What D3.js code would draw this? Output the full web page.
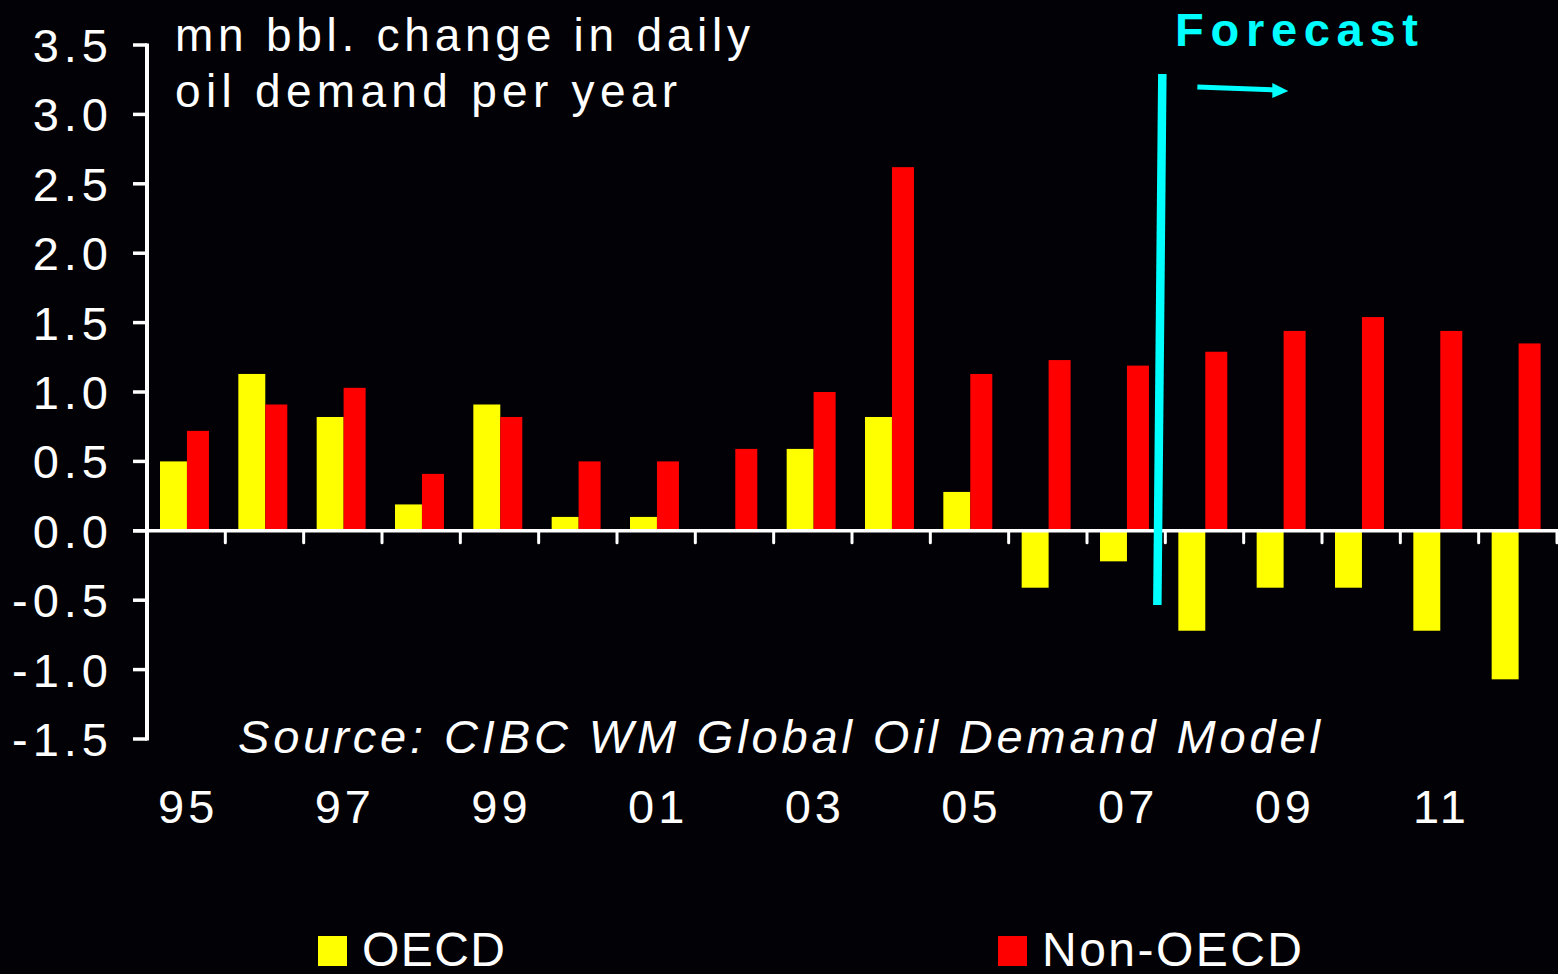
<!DOCTYPE html>
<html><head><meta charset="utf-8">
<script src="https://cdn.jsdelivr.net/npm/d3@7"></script>
<style>html,body{margin:0;padding:0;background:#020206;overflow:hidden}
text{font-family:"Liberation Sans",Arial,sans-serif;fill:#fff}</style>
</head><body><svg id="c" width="1558" height="974"></svg>
<script>
const years = [1995,1996,1997,1998,1999,2000,2001,2002,2003,2004,2005,2006,2007,2008,2009,2010,2011,2012];
const oecd = [0.50,1.13,0.82,0.19,0.91,0.10,0.10,0.00,0.59,0.82,0.28,-0.41,-0.22,-0.72,-0.41,-0.41,-0.72,-1.07];
const nonOecd = [0.72,0.91,1.03,0.41,0.82,0.50,0.50,0.59,1.00,2.62,1.13,1.23,1.19,1.29,1.44,1.54,1.44,1.35];
const yTicks = [-1.5,-1.0,-0.5,0.0,0.5,1.0,1.5,2.0,2.5,3.0,3.5];
const xLabelYears = [1995,1997,1999,2001,2003,2005,2007,2009,2011];
const seriesNames = ["OECD","Non-OECD"];
const seriesColors = ["#FFFF00","#FF0000"];
const forecastYear = 2008;
const titleLines = ["mn bbl. change in daily","oil demand per year"];
const sourceText = "Source: CIBC WM Global Oil Demand Model";

const svg = d3.select("#c");
const x = d3.scaleBand().domain(years).range([147,1557]).padding(0);
const y = d3.scaleLinear().domain([-1.5,3.5]).range([739,45]);
const bw = x.bandwidth();
const sub = d3.scaleOrdinal().domain([0,1]).range([0.166*bw, 0.166*bw+0.344*bw]);
const subW = [0.344*bw, 0.281*bw];

// bars
[oecd, nonOecd].forEach((vals,si)=>{
  svg.append("g").selectAll("rect").data(years).join("rect")
    .attr("x", d=>x(d)+sub(si))
    .attr("width", subW[si])
    .attr("y", (d,i)=> vals[i]>=0 ? y(vals[i]) : y(0))
    .attr("height", (d,i)=> Math.abs(y(vals[i])-y(0)))
    .attr("fill", seriesColors[si]);
});

// y axis
const ya = svg.append("g");
ya.append("line").attr("x1",147).attr("x2",147).attr("y1",y(3.5)-1.5).attr("y2",y(-1.5)+1.5)
  .attr("stroke","#fff").attr("stroke-width",4);
ya.selectAll("line.t").data(yTicks).join("line").attr("class","t")
  .attr("x1",133).attr("x2",147).attr("y1",d=>y(d)).attr("y2",d=>y(d))
  .attr("stroke","#fff").attr("stroke-width",3.5);
ya.selectAll("text").data(yTicks).join("text")
  .attr("x",113).attr("y",d=>y(d)+17)
  .attr("text-anchor","end").attr("font-size",47).attr("letter-spacing",5)
  .text(d=>d.toFixed(1));

// zero line + x ticks
svg.append("line").attr("x1",133).attr("x2",1558).attr("y1",y(0)).attr("y2",y(0))
  .attr("stroke","#fff").attr("stroke-width",3.5);
svg.append("g").selectAll("line").data(years).join("line")
  .attr("x1",d=>x(d)+bw).attr("x2",d=>x(d)+bw)
  .attr("y1",y(0)).attr("y2",y(0)+12)
  .attr("stroke","#fff").attr("stroke-width",3).attr("stroke-linecap","round");

// x labels
svg.append("g").selectAll("text").data(xLabelYears).join("text")
  .attr("x",d=>x(d)+bw/2+2).attr("y",823)
  .attr("text-anchor","middle").attr("font-size",47).attr("letter-spacing",4)
  .text(d=>String(d).slice(2));

// title
titleLines.forEach((t,i)=>{
  svg.append("text").attr("x",175).attr("y",[51,107][i]).attr("font-size",46)
    .attr("textLength",[575,502][i]).attr("lengthAdjust","spacing").text(t);
});

// source
svg.append("text").attr("x",238).attr("y",753).attr("font-size",47).attr("font-style","italic")
  .attr("textLength",1082).attr("lengthAdjust","spacing").text(sourceText);

// forecast marker
const fx = x(forecastYear);
svg.append("line").attr("x1",fx-3).attr("x2",fx-8).attr("y1",74).attr("y2",605)
  .attr("stroke","#00FFFF").attr("stroke-width",8.5);
svg.append("line").attr("x1",fx+32).attr("x2",fx+110).attr("y1",87).attr("y2",90)
  .attr("stroke","#00FFFF").attr("stroke-width",5);
svg.append("path").attr("d",`M${fx+107},${83} L${fx+123},${91} L${fx+107},${98} Z`).attr("fill","#00FFFF");
svg.append("text").attr("x",1175).attr("y",46).attr("font-size",47).attr("font-weight","bold")
  .style("fill","#00FFFF").attr("textLength",243).attr("lengthAdjust","spacing").text("Forecast");

// legend
const lg = svg.append("g");
const lx = [318,998], tl = [143,260];
seriesNames.forEach((n,i)=>{
  lg.append("rect").attr("x",lx[i]).attr("y",936).attr("width",29).attr("height",30).attr("fill",seriesColors[i]);
  lg.append("text").attr("x",lx[i]+44).attr("y",966).attr("font-size",48)
    .attr("textLength",tl[i]).attr("lengthAdjust","spacing").text(n);
});
</script></body></html>
